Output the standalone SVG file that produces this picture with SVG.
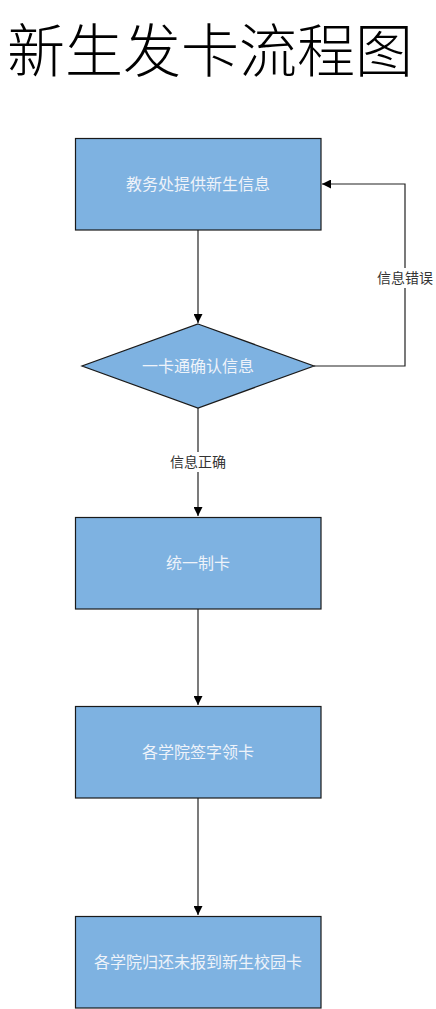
<svg xmlns="http://www.w3.org/2000/svg" width="436" height="1009" viewBox="0 0 436 1009">
<defs>
<style>
.node{fill:#7EB2E1;stroke:#1a1a1a;stroke-width:1.2}
.nt{font-family:"Liberation Serif","Noto Sans CJK SC",serif;font-size:16px;fill:#EEF3FA;text-anchor:middle;dominant-baseline:central}
.lbl{font-family:"Liberation Serif","Noto Sans CJK SC",serif;font-size:14px;fill:#333;text-anchor:middle;dominant-baseline:central}
.edge{fill:none;stroke:#222;stroke-width:1.2}
</style>
<marker id="arr" viewBox="0 0 10 10" refX="10" refY="5" markerWidth="9" markerHeight="9" markerUnits="userSpaceOnUse" orient="auto">
<path d="M0,0 L10,5 L0,10 z" fill="#000"/>
</marker>
</defs>
<rect width="436" height="1009" fill="#fff"/>
<text x="210" y="47" style="font-family:'Noto Sans CJK SC',serif;font-size:58px;font-weight:300;fill:#000;text-anchor:middle;dominant-baseline:central">新生发卡流程图</text>
<g id="connectors">
<path class="edge" d="M198,230 L198,323" marker-end="url(#arr)"/>
<path class="edge" d="M314,366 L405,366 L405,184 L322,184" marker-end="url(#arr)"/>
<rect x="373" y="268" width="64" height="20" fill="#fff"/>
<text class="lbl" x="405" y="278">信息错误</text>
<path class="edge" d="M198,408 L198,516" marker-end="url(#arr)"/>
<rect x="165" y="452" width="66" height="20" fill="#fff"/>
<text class="lbl" x="198" y="462">信息正确</text>
<path class="edge" d="M198,609 L198,705" marker-end="url(#arr)"/>
<path class="edge" d="M198,798 L198,915" marker-end="url(#arr)"/>
</g>
<g id="n1"><rect class="node" x="75.5" y="138.5" width="245.5" height="91.5"/><text class="nt" x="198" y="184">教务处提供新生信息</text></g>
<g id="n2"><polygon class="node" points="198,324 314,366 198,408 82,366"/><text class="nt" x="198" y="366">一卡通确认信息</text></g>
<g id="n3"><rect class="node" x="75.5" y="517.5" width="245.5" height="91.5"/><text class="nt" x="198" y="563">统一制卡</text></g>
<g id="n4"><rect class="node" x="75.5" y="706.5" width="245.5" height="91.5"/><text class="nt" x="198" y="752">各学院签字领卡</text></g>
<g id="n5"><rect class="node" x="75.5" y="916.5" width="245.5" height="91.5"/><text class="nt" x="198" y="962">各学院归还未报到新生校园卡</text></g>
</svg>
